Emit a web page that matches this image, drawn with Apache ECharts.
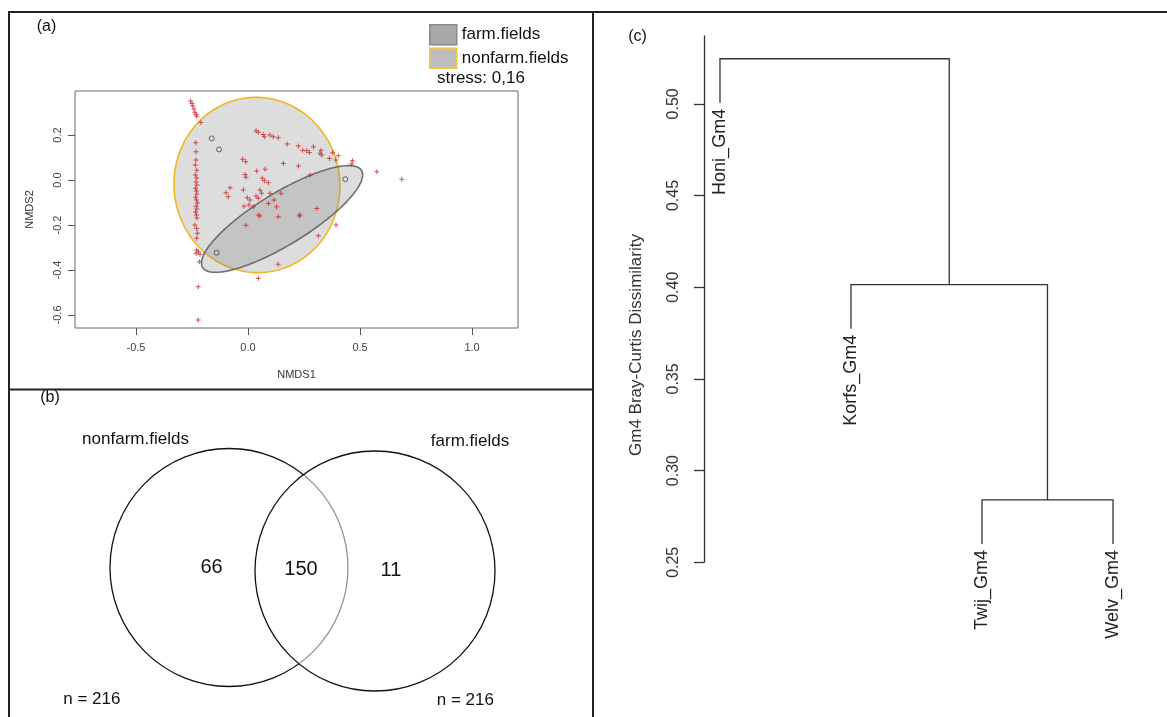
<!DOCTYPE html>
<html><head><meta charset="utf-8">
<script src="https://cdn.jsdelivr.net/npm/echarts@6/dist/echarts.min.js"></script>
<style>html,body{margin:0;padding:0;background:#fff}#c{width:1167px;height:717px}</style>
</head><body><div id="c"></div>
<script>
// ---------- Panel (a): NMDS ordination ----------
const nmdsX = [
  -0.256,-0.25,-0.246,-0.241,-0.237,-0.232,-0.229,-0.210,
  -0.233,-0.232,-0.232,-0.235,-0.229,-0.235,-0.229,-0.232,-0.228,-0.234,-0.230,-0.228,-0.234,-0.230,-0.225,-0.232,-0.228,-0.234,-0.230,-0.228,-0.237,-0.229,-0.226,-0.229,-0.229,-0.222,-0.232,-0.214,-0.217,-0.222,-0.222,
  0.036,0.046,0.068,0.073,0.098,0.113,0.135,0.175,0.225,0.244,0.262,0.274,0.292,0.321,0.326,0.329,0.363,0.378,0.392,0.403,0.466,0.463,0.575,0.686,
  -0.024,-0.010,0.076,0.039,0.158,0.225,-0.013,-0.009,0.064,0.073,0.091,0.277,-0.080,-0.098,-0.088,-0.021,0.054,0.061,0.036,-0.003,0.009,0.046,0.098,0.128,0.091,-0.018,0.004,0.024,-0.009,0.046,0.054,0.135,0.229,0.307,0.232,0.393,0.314,0.135,0.046,0.147,0.116
];
const nmdsY = [
  0.351,0.340,0.329,0.316,0.302,0.291,0.284,0.256,
  0.166,0.126,0.089,0.067,0.044,0.022,0.009,-0.009,-0.022,-0.036,-0.049,-0.062,-0.076,-0.089,-0.102,-0.116,-0.129,-0.142,-0.156,-0.169,-0.200,-0.215,-0.237,-0.259,-0.311,-0.319,-0.326,-0.330,-0.363,-0.474,-0.622,
  0.219,0.212,0.203,0.192,0.200,0.192,0.188,0.160,0.151,0.133,0.130,0.123,0.148,0.119,0.133,0.111,0.096,0.121,0.089,0.108,0.086,0.071,0.037,0.004,
  0.092,0.081,0.048,0.040,0.074,0.062,0.025,0.012,0.008,-0.003,-0.012,0.022,-0.034,-0.056,-0.074,-0.044,-0.044,-0.059,-0.071,-0.079,-0.089,-0.081,-0.059,-0.119,-0.104,-0.116,-0.111,-0.119,-0.201,-0.156,-0.160,-0.163,-0.160,-0.126,-0.156,-0.200,-0.248,-0.375,-0.437,-0.059,-0.089
];
const siteX = [-0.162, -0.129, -0.140, 0.434];
const siteY = [0.185, 0.136, -0.323, 0.004];
const ellipseNames = ['farm.fields', 'nonfarm.fields'];
const ellipseCx = [0.152, 0.040];
const ellipseCy = [-0.173, -0.022];
const ellipseA = [0.415, 0.390];
const ellipseB = [0.116, 0.370];
const ellipseAngle = [31.3, 96.5];
const nmdsXTicks = [-0.5, 0.0, 0.5, 1.0];
const nmdsYTicks = [-0.6, -0.4, -0.2, 0.0, 0.2];
const stressText = 'stress: 0,16';

// ---------- Panel (b): Venn ----------
const vennSets = ['nonfarm.fields', 'farm.fields'];
const vennTotals = [216, 216];
const vennCounts = [66, 150, 11];

// ---------- Panel (c): dendrogram ----------
const leafLabels = ['Honi_Gm4', 'Korfs_Gm4', 'Twij_Gm4', 'Welv_Gm4'];
const mergeHeights = [0.284, 0.4014, 0.5246];
const mergePairs = [[-3, -4], [-2, 1], [-1, 2]]; // hclust convention
const dendroTicks = [0.25, 0.30, 0.35, 0.40, 0.45, 0.50];
const dendroTitle = 'Gm4 Bray-Curtis Dissimilarity';

const FONT = "'Liberation Sans', Arial, sans-serif";

// dendrogram layout
const hang = 0.1 * (Math.max(...mergeHeights) - Math.min(...mergeHeights));
const mergeX = [];
function nodeX(id) { return id < 0 ? -id : mergeX[id - 1]; }
const dendroLinks = [];
mergePairs.forEach((p, k) => {
  const h = mergeHeights[k];
  const x1 = nodeX(p[0]), x2 = nodeX(p[1]);
  const y1 = p[0] < 0 ? h - hang : mergeHeights[p[0] - 1];
  const y2 = p[1] < 0 ? h - hang : mergeHeights[p[1] - 1];
  mergeX.push((x1 + x2) / 2);
  dendroLinks.push([x1, y1, x2, y2, h]);
});
const leafEnds = [];
mergePairs.forEach((p, k) => p.forEach(id => { if (id < 0) leafEnds.push([-id, mergeHeights[k] - hang, leafLabels[-id - 1]]); }));

function ellipseSeries(i, fill, stroke) {
  return {
    type: 'custom', name: ellipseNames[i], xAxisIndex: 0, yAxisIndex: 0, silent: true,
    data: [[ellipseCx[i], ellipseCy[i], ellipseA[i], ellipseB[i], ellipseAngle[i]]],
    renderItem: function (params, api) {
      const cx = api.value(0), cy = api.value(1), a = api.value(2), b = api.value(3), ang = api.value(4) * Math.PI / 180;
      const pts = [];
      for (let j = 0; j <= 180; j++) {
        const t = j / 180 * 2 * Math.PI;
        pts.push(api.coord([
          cx + a * Math.cos(t) * Math.cos(ang) - b * Math.sin(t) * Math.sin(ang),
          cy + a * Math.cos(t) * Math.sin(ang) + b * Math.sin(t) * Math.cos(ang)
        ]));
      }
      return { type: 'polygon', shape: { points: pts }, style: { fill: fill, stroke: stroke, lineWidth: 1.6 } };
    }
  };
}

const chart = echarts.init(document.getElementById('c'), null, { renderer: 'canvas' });
const lineC = '#222';
chart.setOption({
  animation: false,
  backgroundColor: '#fff',
  textStyle: { fontFamily: FONT },
  grid: [
    { left: 75, top: 91, width: 443, height: 237, show: true, borderColor: '#666', borderWidth: 1, backgroundColor: 'transparent' },
    { left: 9, top: 390, width: 583, height: 327, show: false },
    { left: 704, top: 36, width: 448.3, height: 526.3, show: false }
  ],
  legend: {
    orient: 'vertical', left: 429, top: 24, padding: 0, itemWidth: 27, itemHeight: 20, itemGap: 2, icon: 'rect',
    selectedMode: false,
    textStyle: { fontSize: 17, lineHeight: 20, color: '#111', fontFamily: FONT },
    data: [
      { name: 'farm.fields', itemStyle: { color: '#a8a8a8', borderColor: '#8a8a8a', borderWidth: 1.5 } },
      { name: 'nonfarm.fields', itemStyle: { color: '#bdbdbd', borderColor: '#f2c44a', borderWidth: 1.5 } }
    ]
  },
  xAxis: [
    { gridIndex: 0, type: 'value', min: -0.772, max: 1.205,
      name: 'NMDS1', nameLocation: 'middle', nameGap: 41, nameTextStyle: { fontSize: 11, color: '#333', fontFamily: FONT },
      axisLine: { show: false, onZero: false }, splitLine: { show: false },
      axisTick: { show: true, length: 7, customValues: nmdsXTicks, lineStyle: { color: '#555' } },
      axisLabel: { customValues: nmdsXTicks, margin: 14, fontSize: 11, color: '#444', fontFamily: FONT, formatter: v => v.toFixed(1) } },
    { gridIndex: 1, type: 'value', min: 0, max: 583, show: false },
    { gridIndex: 2, type: 'value', min: 0.878, max: 4.3, show: false }
  ],
  yAxis: [
    { gridIndex: 0, type: 'value', min: -0.658, max: 0.396,
      name: 'NMDS2', nameLocation: 'middle', nameGap: 40, nameRotate: 90, nameTextStyle: { fontSize: 11, color: '#333', fontFamily: FONT },
      axisLine: { show: false, onZero: false }, splitLine: { show: false },
      axisTick: { show: true, length: 7, customValues: nmdsYTicks, lineStyle: { color: '#555' } },
      axisLabel: { customValues: nmdsYTicks, rotate: 90, margin: 12, fontSize: 11, color: '#444', fontFamily: FONT, formatter: v => v.toFixed(1) } },
    { gridIndex: 1, type: 'value', min: 0, max: 327, inverse: true, show: false },
    { gridIndex: 2, type: 'value', min: 0.25, max: 0.537,
      axisLine: { show: true, onZero: false, lineStyle: { color: '#333', width: 1.3 } }, splitLine: { show: false },
      axisTick: { show: true, length: 10, customValues: dendroTicks, lineStyle: { color: '#333', width: 1.3 } },
      axisLabel: { customValues: dendroTicks, rotate: 90, margin: 22, fontSize: 16, color: '#333', fontFamily: FONT, formatter: v => v.toFixed(2) } }
  ],
  series: [
    { type: 'scatter', name: 'points', xAxisIndex: 0, yAxisIndex: 0, silent: true,
      symbol: 'path://M2,0H3V2H5V3H3V5H2V3H0V2H2Z', symbolSize: 5,
      itemStyle: { color: '#c8262b' },
      data: nmdsX.map((x, i) => [x, nmdsY[i]]) },
    ellipseSeries(1, 'rgba(128,128,128,0.27)', '#f0b71e'),
    ellipseSeries(0, 'rgba(128,128,128,0.27)', '#6e6e6e'),
    { type: 'scatter', name: 'sites', xAxisIndex: 0, yAxisIndex: 0, silent: true, symbol: 'circle', symbolSize: 5,
      itemStyle: { color: 'rgba(0,0,0,0)', borderColor: '#444', borderWidth: 1 },
      data: siteX.map((x, i) => [x, siteY[i]]) },
    // Venn circles
    { type: 'custom', name: 'venn', xAxisIndex: 1, yAxisIndex: 1, silent: true,
      data: [[220, 177.5, 119, 0], [366, 181, 120, 1]],
      renderItem: function (params, api) {
        const c = api.coord([api.value(0), api.value(1)]);
        const r = api.size([api.value(2), 0])[0];
        return { type: 'circle', shape: { cx: c[0], cy: c[1], r: r },
          style: { fill: api.value(3) ? 'rgba(255,255,255,0.55)' : 'none', stroke: '#111', lineWidth: 1.3 } };
      } },
    { type: 'custom', name: 'vennText', xAxisIndex: 1, yAxisIndex: 1, silent: true,
      data: [
        [126.5, 49, vennSets[0], 17], [461, 51, vennSets[1], 17],
        [202.5, 177, String(vennCounts[0]), 20], [292, 179, String(vennCounts[1]), 20], [382, 180, String(vennCounts[2]), 20],
        [82.8, 309, 'n = ' + vennTotals[0], 17], [456.3, 310.7, 'n = ' + vennTotals[1], 17]
      ],
      renderItem: function (params, api) {
        const c = api.coord([api.value(0), api.value(1)]);
        return { type: 'text', x: c[0], y: c[1], style: { text: api.value(2), font: api.value(3) + 'px ' + FONT, fill: '#111', align: 'center', verticalAlign: 'middle' } };
      } },
    // Dendrogram
    { type: 'custom', name: 'dendro', xAxisIndex: 2, yAxisIndex: 2, silent: true,
      data: dendroLinks,
      renderItem: function (params, api) {
        const x1 = api.value(0), y1 = api.value(1), x2 = api.value(2), y2 = api.value(3), h = api.value(4);
        return { type: 'polyline', shape: { points: [api.coord([x1, y1]), api.coord([x1, h]), api.coord([x2, h]), api.coord([x2, y2])] },
          style: { stroke: '#333', lineWidth: 1.3, fill: null } };
      } },
    { type: 'custom', name: 'leaves', xAxisIndex: 2, yAxisIndex: 2, silent: true,
      data: leafEnds,
      renderItem: function (params, api) {
        const c = api.coord([api.value(0), api.value(1)]);
        return { type: 'text', x: c[0], y: c[1] + 6, rotation: Math.PI / 2,
          style: { text: api.value(2), font: '18px ' + FONT, fill: '#222', align: 'right', verticalAlign: 'middle' } };
      } }
  ],
  graphic: [
    { type: 'line', shape: { x1: 8, y1: 12, x2: 1167, y2: 12 }, style: { stroke: lineC, lineWidth: 2 } },
    { type: 'line', shape: { x1: 9, y1: 12, x2: 9, y2: 717 }, style: { stroke: lineC, lineWidth: 2 } },
    { type: 'line', shape: { x1: 593, y1: 12, x2: 593, y2: 717 }, style: { stroke: lineC, lineWidth: 2 } },
    { type: 'line', shape: { x1: 9, y1: 389.5, x2: 593, y2: 389.5 }, style: { stroke: lineC, lineWidth: 2 } },
    { type: 'text', x: 46.5, y: 26.5, style: { text: '(a)', font: '16px ' + FONT, fill: '#111', align: 'center', verticalAlign: 'middle' } },
    { type: 'text', x: 50, y: 398, style: { text: '(b)', font: '16px ' + FONT, fill: '#111', align: 'center', verticalAlign: 'middle' } },
    { type: 'text', x: 637.5, y: 37, style: { text: '(c)', font: '16px ' + FONT, fill: '#111', align: 'center', verticalAlign: 'middle' } },
    { type: 'text', x: 437, y: 78, style: { text: stressText, font: '17px ' + FONT, fill: '#111', align: 'left', verticalAlign: 'middle' } },
    { type: 'text', x: 636, y: 345, rotation: Math.PI / 2, style: { text: dendroTitle, font: '17px ' + FONT, fill: '#333', align: 'center', verticalAlign: 'middle' } }
  ]
});
</script></body></html>
